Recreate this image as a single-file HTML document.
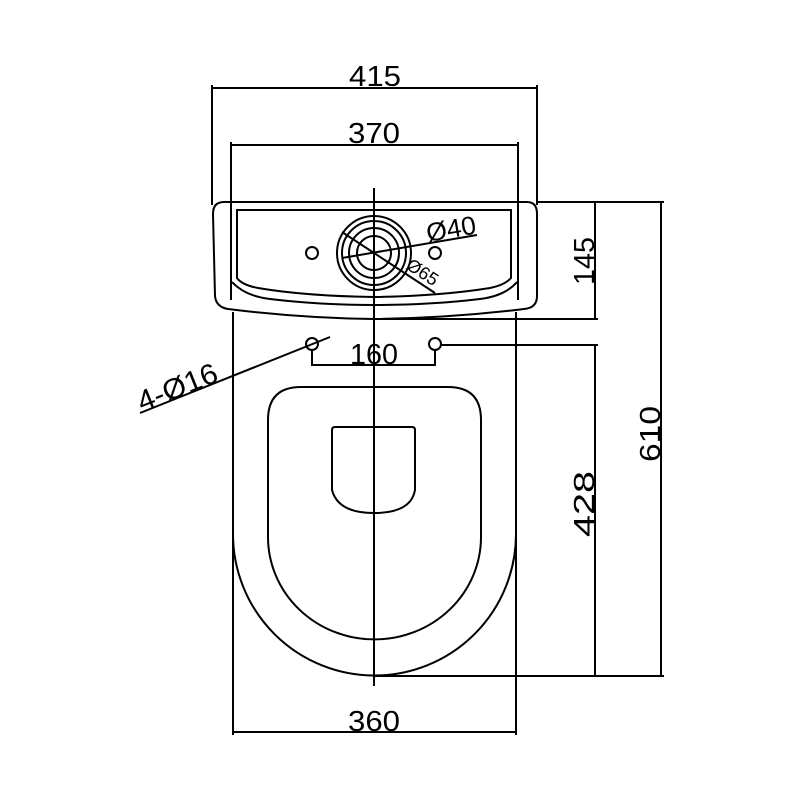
<!DOCTYPE html>
<html><head><meta charset="utf-8"><style>html,body{margin:0;padding:0;background:#fff}svg{display:block}</style></head>
<body>
<svg width="800" height="800" viewBox="0 0 800 800" xmlns="http://www.w3.org/2000/svg" fill="none" stroke="#000" stroke-width="2">
<g font-family="Liberation Sans, sans-serif" font-size="29" fill="#000" stroke="none" lengthAdjust="spacingAndGlyphs">
<text x="349" y="86" textLength="52" lengthAdjust="spacingAndGlyphs">415</text>
<text x="348" y="143" textLength="52" lengthAdjust="spacingAndGlyphs">370</text>
<text x="350" y="364" textLength="48" lengthAdjust="spacingAndGlyphs">160</text>
<text x="348" y="731" textLength="52" lengthAdjust="spacingAndGlyphs">360</text>
<text transform="translate(594,285) rotate(-90)" textLength="48" lengthAdjust="spacingAndGlyphs">145</text>
<text transform="translate(594,537) rotate(-90)" textLength="66" lengthAdjust="spacingAndGlyphs">428</text>
<text transform="translate(660,462) rotate(-90)" textLength="56" lengthAdjust="spacingAndGlyphs">610</text>
<text transform="translate(142,412) rotate(-21.8)" textLength="84" lengthAdjust="spacingAndGlyphs">4-Ø16</text>
<text transform="translate(428,242) rotate(-10)" font-size="26" textLength="50" lengthAdjust="spacingAndGlyphs">Ø40</text>
<text transform="translate(405,268) rotate(33)" font-size="18" textLength="34" lengthAdjust="spacingAndGlyphs">Ø65</text>
</g>
<!-- dimension lines -->
<path d="M212 85V205M537 85V205M212 88H537"/>
<path d="M231 142V300M518 142V300M231 145H518"/>
<path d="M537 202H664M373 319H598M595 202V319"/>
<path d="M440 345H598M374 676H664M595 345V676M661 202V676"/>
<path d="M233 312V735M516 312V735M233 732H516"/>
<path d="M312 350V365H435V350"/>
<path d="M140 413L330 337"/>
<!-- centerline -->
<path d="M374 188V686"/>
<!-- tank -->
<path d="M224 202H527Q537 202 537 214V296Q537 308 524 309Q450 318 374 319Q300 318 228 309Q216 307 215 296L213 214Q213 202 224 202Z"/>
<path d="M237 210H511V278Q505 285 490 288Q440 296 374 297Q305 296 258 288Q242 285 237 278Z"/>
<path d="M232 282Q245 296 270 299Q320 305 374 305Q430 305 480 299Q505 296 517 282"/>
<!-- flush button -->
<circle cx="374" cy="253" r="37"/><circle cx="374" cy="253" r="32"/><circle cx="374" cy="253" r="25"/><circle cx="374" cy="253" r="17"/>
<circle cx="312" cy="253" r="6"/><circle cx="435" cy="253" r="6"/>
<path d="M342 258L477 235M342 232L435 293"/>
<!-- mounting holes -->
<circle cx="312" cy="344" r="6"/><circle cx="435" cy="344" r="6"/>
<!-- body -->
<path d="M233 534A141 141 0 0 0 516 534"/>
<!-- seat -->
<path d="M301 387H448Q481 387 481 420V537A106 102 0 0 1 268 537V420Q268 387 301 387Z"/>
<path d="M335 427H412Q415 427 415 430V490Q411 513 374 513Q338 513 332 490V430Q332 427 335 427Z"/>
</svg>
</body></html>
